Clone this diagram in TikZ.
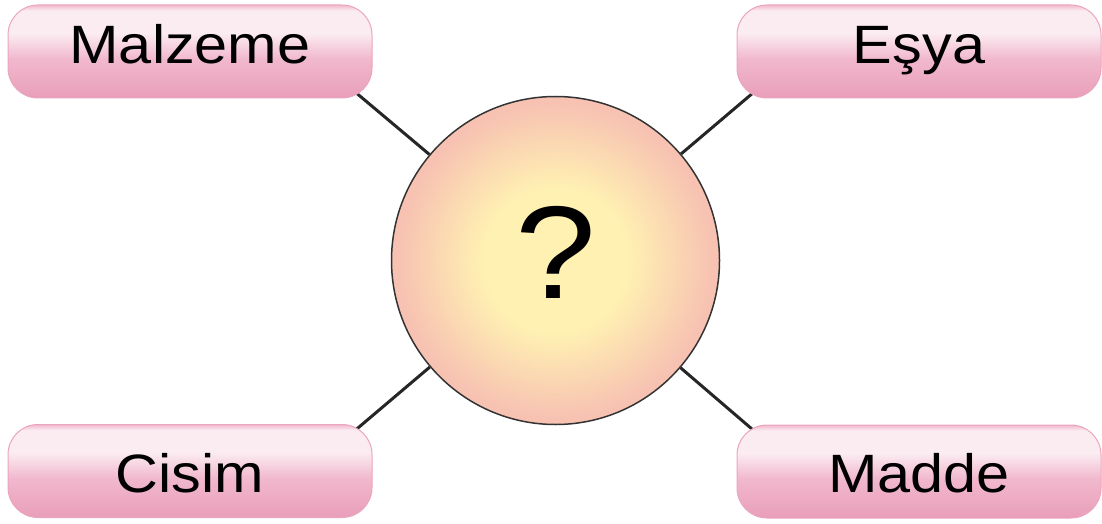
\documentclass[tikz,border=0pt]{standalone}
\usepackage{fontspec}
\newfontfamily\lblfont{Liberation Sans}
\usetikzlibrary{positioning,backgrounds,calc}
\definecolor{boxbot}{RGB}{233,158,186}
\definecolor{boxmid}{RGB}{241,184,205}
\definecolor{boxlight}{RGB}{251,236,242}
\definecolor{boxedge}{RGB}{235,165,190}
\definecolor{qin}{RGB}{255,241,178}
\definecolor{qout}{RGB}{247,194,178}
\pgfdeclareverticalshading{boxshade}{100bp}{color(0bp)=(boxbot); color(25bp)=(boxbot);
	color(46bp)=(boxmid); color(60bp)=(boxlight); color(72bp)=(boxlight); color(75bp)=(boxmid);
	color(100bp)=(boxmid)}
\pgfdeclareradialshading{qshade}{\pgfpoint{0bp}{0bp}}{color(0bp)=(qin); color(11bp)=(qin);
	color(24bp)=(qout); color(50bp)=(qout)}
\newcommand{\stretchtxt}[1]{\scalebox{1.1}[1]{#1}}
\tikzstyle{lbl}=[rectangle, rounded corners=30pt, draw=boxedge, line width=1pt,
		shading=boxshade, minimum width=364pt, minimum height=93pt, inner sep=0,
		text height=42pt, font=\lblfont\fontsize{54}{60}\selectfont]
\tikzstyle{lbltop}=[lbl, text depth=18pt]
\tikzstyle{lblbot}=[lbl, text depth=0pt]
\tikzstyle{qmark}=[circle, draw=black!80, line width=1.5pt, shading=qshade,
		minimum size=328pt, inner sep=0, text height=96pt, text depth=20pt,
		font=\lblfont\fontsize{132}{140}\selectfont]
\tikzstyle{link}=[draw=black!85, line width=3pt]

\begin{document}
\begin{tikzpicture}[x=1pt, y=-1pt]
	\useasboundingbox (0,0) rectangle (1102,524);
	\node[qmark] (q) at (555.5,260.5) {\stretchtxt{?}};
	\node[lbltop] (ml) at (190,51.5) {\stretchtxt{Malzeme}};
	\node[lbltop] (es) at (919,51.5) {\stretchtxt{Eşya}};
	\node[lblbot] (cs) at (190,471) {\stretchtxt{Cisim}};
	\node[lblbot] (md) at (919,471.5) {\stretchtxt{Madde}};
	\coordinate (ml-end) at ([shift={(-37,-23)}]ml.south east);
	\coordinate (es-end) at ([shift={(37,-23)}]es.south west);
	\coordinate (cs-end) at ([shift={(-37,23)}]cs.north east);
	\coordinate (md-end) at ([shift={(37,23)}]md.north west);
	\begin{scope}[on background layer]
		\draw[link] (q) -- (ml-end);
		\draw[link] (q) -- (es-end);
		\draw[link] (q) -- (cs-end);
		\draw[link] (q) -- (md-end);
	\end{scope}
\end{tikzpicture}
\end{document}
